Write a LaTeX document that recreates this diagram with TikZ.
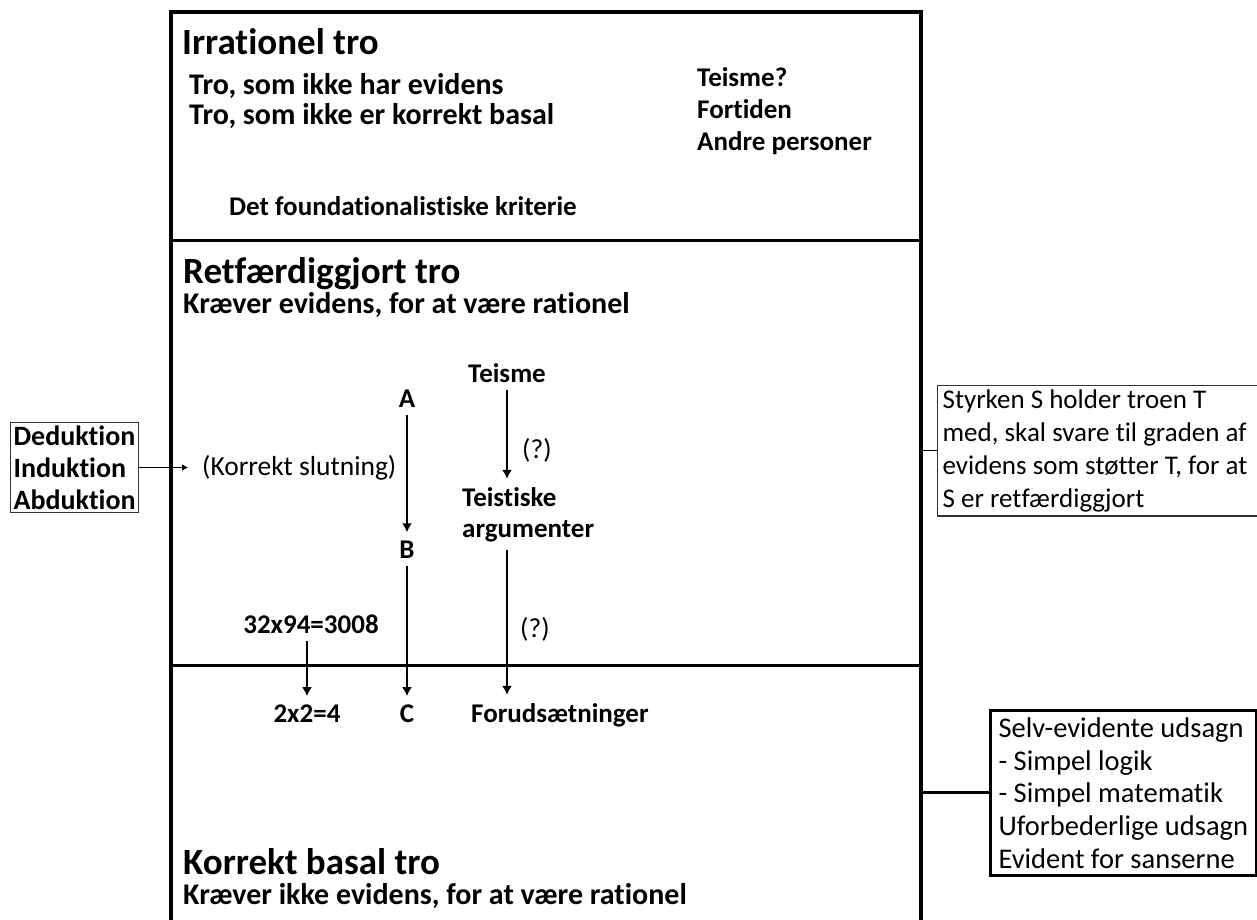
\documentclass[tikz,border=0pt]{standalone}
\usepackage{fontspec}
\setmainfont{Carlito}[Ligatures=NoCommon]
\usetikzlibrary{arrows.meta}

\begin{document}
\begin{tikzpicture}[x=1pt, y=-1pt,
        title/.style={anchor=base west, inner sep=0pt, font=\bfseries\fontsize{37}{44}\selectfont},
        sub/.style={anchor=base west, inner sep=0pt, font=\bfseries\fontsize{30}{36}\selectfont},
        lbl/.style={inner sep=0pt, font=\bfseries\fontsize{27}{31}\selectfont},
        note/.style={inner sep=0pt, font=\fontsize{27.5}{31}\selectfont},
        arr/.style={line width=2.5pt, -{Latex[length=9pt,width=10pt]}, shorten <=8pt, shorten >=8pt}]
        \useasboundingbox (0,0) rectangle (1257,920);
        \clip (0,0) rectangle (1257,920);
        \coordinate (NW) at (171,12);
        \coordinate (NE) at (921,12);
        \coordinate (D1) at (171,240);
        \coordinate (D2) at (171,665);
        \draw[line width=4pt] (171,940) -- (NW) -- (NE) -- (921,940);
        \draw[line width=3pt] (D1) -- (D1 -| NE) (D2) -- (D2 -| NE);

        \node[title] (irr) at (182,55) {Irrationel tro};
        \node[sub] (tro1) at (189,95) {Tro, som ikke har evidens};
        \node[sub] (tro2) at (189,125) {Tro, som ikke er korrekt basal};
        \foreach \t [count=\i] in {Teisme?,Fortiden,Andre personer}
            \node[lbl, anchor=base west] (ex\i) at (697,{55+32*\i}) {\t};
        \node[lbl, anchor=base west] (det) at (229,215) {Det foundationalistiske kriterie};

        \node[title] (ret) at (183,283) {Retfærdiggjort tro};
        \node[sub] (krav) at (183,313) {Kræver evidens, for at være rationel};
        \node[lbl, anchor=base] (teisme) at (507,382) {Teisme};
        \node[lbl, anchor=base] (A) at (407,407) {A};
        \node[lbl, anchor=base] (B) at (407,558) {B};
        \node[lbl, anchor=base] (C) at (407,722) {C};
        \node[lbl, anchor=base west, align=left] (teist) at (462,537) {Teistiske\\argumenter};
        \node[lbl, anchor=base west] (forud) at (471,722) {Forudsætninger};
        \node[lbl, anchor=base] (regn) at (311,633) {32x94=3008};
        \node[lbl, anchor=base] (simpel) at (307,722) {2x2=4};
        \node[note, anchor=base west] (q1) at (522,458) {(?)};
        \node[note, anchor=base west] (q2) at (520,637) {(?)};
        \node[note, anchor=base west] (slut) at (202,475) {(Korrekt slutning)};

        \node[title] (kb) at (183,874) {Korrekt basal tro};
        \node[sub] (krav2) at (183,904) {Kræver ikke evidens, for at være rationel};

        \node[draw=black!80, line width=1.2pt, inner sep=3pt, align=left, anchor=north west,
            font=\bfseries\fontsize{28}{32}\selectfont] (slag) at (10,422) {Deduktion\\Induktion\\Abduktion};
        \node[draw=black!80, line width=1.2pt, inner xsep=5pt, inner ysep=4pt, text width=330pt, align=flush left,
            anchor=north west, font=\fontsize{27}{33}\selectfont] (styrke) at (937,385)
            {Styrken S holder troen T\\med, skal svare til graden af\\evidens som støtter T, for at\\S er retfærdiggjort};
        \node[draw, line width=3pt, inner xsep=8pt, inner ysep=7pt, align=left, anchor=north west,
            font=\fontsize{28.5}{32.7}\selectfont] (selv) at (989,709)
            {Selv-evidente udsagn\\- Simpel logik\\- Simpel matematik\\Uforbederlige udsagn\\Evident for sanserne};

        \draw[line width=1.5pt, -{Latex[length=6pt,width=7pt]}, shorten >=14pt] (slag.east) -- (slag.east -| slut.west);
        \draw[line width=1.2pt] (styrke.west) -- (styrke.west -| NE);
        \draw[line width=3pt] (selv.west) -- (selv.west -| NE);
        \draw[arr] (A) -- (B);
        \draw[arr] (B) -- (C);
        \draw[arr] (teisme.south) -- (teisme.south |- teist.north);
        \draw[arr] (teisme.south |- teist.south) -- (teisme.south |- forud.north);
        \draw[arr] (simpel.north |- regn.south) -- (simpel.north);
\end{tikzpicture}
\end{document}
